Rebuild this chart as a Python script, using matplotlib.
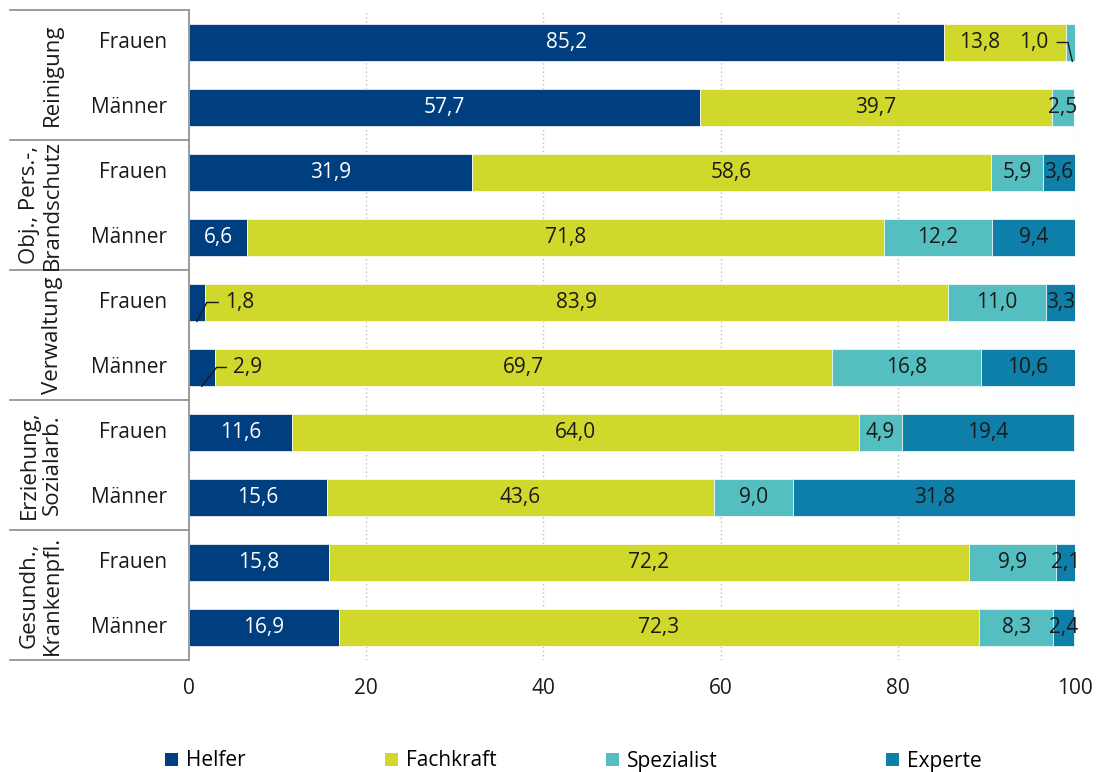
import matplotlib
matplotlib.use("Agg")
import matplotlib.pyplot as plt
import matplotlib.transforms as mtransforms
from matplotlib.patches import Patch
import numpy as np

plt.rcParams['font.family'] = ['Open Sans', 'DejaVu Sans']

# --- data -------------------------------------------------------------
groups = ["Reinigung", "Obj., Pers.-,\nBrandschutz", "Verwaltung",
          "Erziehung,\nSozialarb.", "Gesundh.,\nKrankenpfl."]
sexes = ["Frauen", "Männer"]
levels = ["Helfer", "Fachkraft", "Spezialist", "Experte"]

# rows: group x sex (Frauen, Männer), top to bottom
helfer = [85.2, 57.7, 31.9, 6.6, 1.8, 2.9, 11.6, 15.6, 15.8, 16.9]
fachkraft = [13.8, 39.7, 58.6, 71.8, 83.9, 69.7, 64.0, 43.6, 72.2, 72.3]
spezialist = [1.0, 2.5, 5.9, 12.2, 11.0, 16.8, 4.9, 9.0, 9.9, 8.3]
experte = [0.0, 0.0, 3.6, 9.4, 3.3, 10.6, 19.4, 31.8, 2.1, 2.4]

colors = ["#003F7F", "#D0D82B", "#55BEC0", "#0E7FA8"]
label_colors = ["white", "#1A1A1A", "#1A1A1A", "#1A1A1A"]
FS = 15

# --- figure -----------------------------------------------------------
fig = plt.figure(figsize=(11, 7.72), dpi=100)
ax = fig.add_axes([189 / 1100, 1 - 660 / 772, 886 / 1100, 650 / 772])

series = [helfer, fachkraft, spezialist, experte]
n = len(helfer)
y = np.arange(n)
bar_h = 0.58
left = np.zeros(n)

ax.grid(axis="x", color="#BFBFBF", linestyle=(0, (1, 2)), linewidth=1)
ax.set_axisbelow(True)

for k, vals in enumerate(series):
    vals = np.array(vals)
    ax.barh(y, vals, left=left, height=bar_h, color=colors[k],
            edgecolor="white", linewidth=0.5, zorder=2)
    for i, v in enumerate(vals):
        if v <= 0:
            continue
        cx = left[i] + v / 2
        txt = f"{v:.1f}".replace(".", ",")
        # small segments get an outside label with leader line
        if k == 0 and v < 5:
            lx = left[i] + v + (2.3 if v < 2.5 else 2.1)
            ax.text(lx, y[i], txt, ha="left", va="center", fontsize=FS,
                    color="#1A1A1A", zorder=4)
            ax.plot([cx, left[i] + v + 0.2, lx - 0.8],
                    [y[i] + bar_h / 2, y[i], y[i]],
                    color="#1A1A1A", lw=1, zorder=4, clip_on=False)
        elif k == 2 and v < 1.5:
            lx = left[i] - 3.7
            ax.text(lx, y[i], txt, ha="center", va="center", fontsize=FS,
                    color="#1A1A1A", zorder=4)
            ax.plot([lx + 2.7, cx - 0.3, cx + 0.2],
                    [y[i], y[i], y[i] + bar_h / 2],
                    color="#1A1A1A", lw=1, zorder=4, clip_on=False)
        elif k == 1 and i == 0:
            ax.text(cx - 2.9, y[i], txt, ha="center", va="center",
                    fontsize=FS, color=label_colors[k], zorder=4)
        else:
            ax.text(cx, y[i], txt, ha="center", va="center", fontsize=FS,
                    color=label_colors[k], zorder=4)
    left = left + vals

ax.set_xlim(0, 100)
ax.set_ylim(n - 0.5, -0.5)
ax.set_xticks([0, 20, 40, 60, 80, 100])
ax.tick_params(axis="x", length=0, labelsize=FS, pad=13, colors="#1A1A1A")
ax.set_yticks([])
for s in ["top", "right", "bottom"]:
    ax.spines[s].set_visible(False)
ax.spines["left"].set_color("#8C8C8C")
ax.spines["left"].set_linewidth(1.2)

# --- category table on the left ------------------------------------------
trans = mtransforms.blended_transform_factory(ax.transAxes, ax.transData)
x0 = (10 - 189) / 886
for b in np.arange(-0.5, n, 2):
    ax.plot([x0, 0], [b, b], color="#8C8C8C", lw=1.2, transform=trans,
            clip_on=False)
for g, name in enumerate(groups):
    ax.text((63 - 189) / 886, 2 * g + 0.5, name, rotation=90, ha="right",
            va="center", multialignment="center", fontsize=16,
            color="#1A1A1A", transform=trans, linespacing=1.12)
for i in range(n):
    ax.text((167 - 189) / 886, i, sexes[i % 2], ha="right", va="center",
            fontsize=FS, color="#1A1A1A", transform=trans)

# --- legend -------------------------------------------------------------
legend_x = [165, 385, 606, 886]
for k, name in enumerate(levels):
    fig.legend(handles=[Patch(facecolor=colors[k], label=name)],
               loc="center left", bbox_to_anchor=(legend_x[k] / 1100, 1 - 761 / 772),
               frameon=False, fontsize=FS, handlelength=0.6, handleheight=0.6,
               handletextpad=0.4, borderaxespad=0, borderpad=0)

fig.savefig("out.png", dpi=100)
